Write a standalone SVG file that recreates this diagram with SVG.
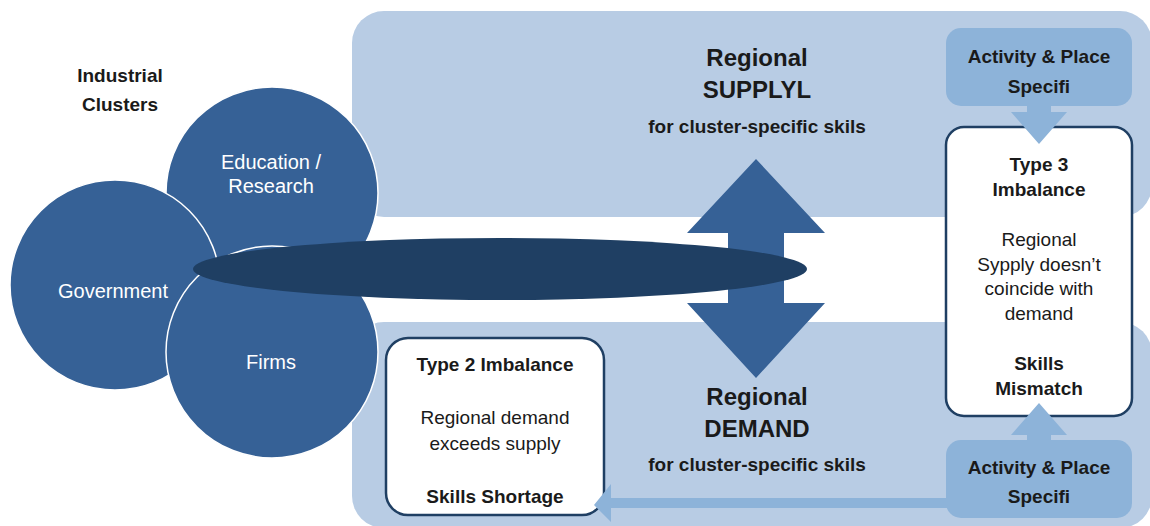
<svg xmlns="http://www.w3.org/2000/svg" width="1150" height="526" viewBox="0 0 1150 526">
<style>
text{font-family:"Liberation Sans",Arial,sans-serif;text-anchor:middle;fill:#1a1a1a}
.b{font-weight:bold}
.w{fill:#ffffff;font-size:20px}
.box{font-size:19px}
.big{font-size:24px;font-weight:bold}
.sub{font-size:19px;font-weight:bold}
.panel{fill:#b8cce4}
.act{fill:#8db3d9}
.circ{fill:#366196;stroke:#ffffff;stroke-width:1.5}
.imb{fill:#ffffff;stroke:#1f3f63;stroke-width:2.5}
</style>
<rect class="panel" x="352" y="11" width="800" height="206" rx="32"/>
<rect class="panel" x="352" y="322" width="800" height="206" rx="32"/>
<g id="cluster-title"><text class="b" x="120" y="82" font-size="19">Industrial</text><text class="b" x="120" y="111" font-size="19">Clusters</text></g>
<g id="education"><circle class="circ" cx="272" cy="193" r="106"/><text class="w" x="271" y="169">Education /</text><text class="w" x="271" y="193">Research</text></g>
<g id="government"><circle class="circ" cx="115" cy="285" r="105"/><text class="w" x="113" y="298">Government</text></g>
<g id="firms"><circle class="circ" cx="272" cy="352" r="106"/><text class="w" x="271" y="369">Firms</text></g>
<g id="activity-top"><rect class="act" x="946" y="28" width="186" height="78" rx="15"/><text class="box b" x="1039" y="63">Activity &amp; Place</text><text class="box b" x="1039" y="93">Specifi</text></g>
<g id="activity-bottom"><rect class="act" x="946" y="440" width="186" height="78" rx="15"/><text class="box b" x="1039" y="474">Activity &amp; Place</text><text class="box b" x="1039" y="503">Specifi</text></g>
<g id="type3"><rect class="imb" x="946" y="127" width="186" height="289" rx="18"/>
<text class="box b" x="1039" y="171">Type 3</text><text class="box b" x="1039" y="196">Imbalance</text>
<text class="box" x="1039" y="246">Regional</text><text class="box" x="1039" y="271">Sypply doesn’t</text><text class="box" x="1039" y="295">coincide with</text><text class="box" x="1039" y="320">demand</text>
<text class="box b" x="1039" y="370">Skills</text><text class="box b" x="1039" y="395">Mismatch</text></g>
<g id="type2"><rect class="imb" x="386" y="338" width="218" height="177" rx="22"/>
<text class="box b" x="495" y="371">Type 2 Imbalance</text>
<text class="box" x="495" y="424">Regional demand</text><text class="box" x="495" y="450">exceeds supply</text>
<text class="box b" x="495" y="503">Skills Shortage</text></g>
<g id="connectors">
<path d="M756 159 L825 233 L784 233 L784 303 L825 303 L756 378 L687 303 L728 303 L728 233 L687 233 Z" fill="#366196"/>
<path d="M1027 105 L1051 105 L1051 112 L1067 112 L1039 144 L1011 112 L1027 112 Z" fill="#8db3d9"/>
<path d="M1027 441 L1051 441 L1051 435 L1067 435 L1039 403 L1011 435 L1027 435 Z" fill="#8db3d9"/>
<path d="M947 498 L611 498 L611 484 L594 505 L611 522 L611 508 L947 508 Z" fill="#8db3d9"/>
</g>
<g id="cluster-link"><ellipse cx="500" cy="269" rx="307" ry="31" fill="#1f3f63"/></g>
<g id="supply"><text class="big" x="757" y="66">Regional</text><text class="big" x="757" y="98">SUPPLYL</text><text class="sub" x="757" y="133">for cluster-specific skils</text></g>
<g id="demand"><text class="big" x="757" y="405">Regional</text><text class="big" x="757" y="437">DEMAND</text><text class="sub" x="757" y="471">for cluster-specific skils</text></g>
</svg>
